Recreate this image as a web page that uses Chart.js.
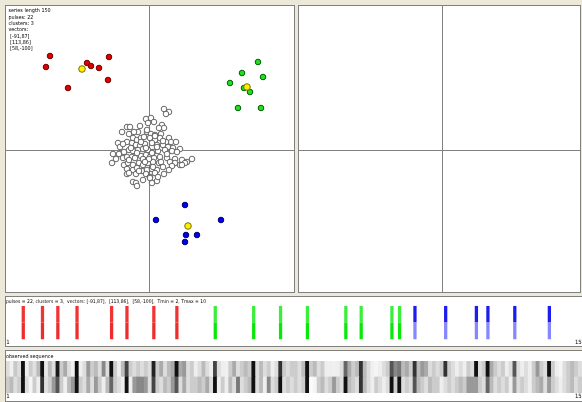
<!DOCTYPE html>
<html><head><meta charset="utf-8">
<script src="https://cdn.jsdelivr.net/npm/chart.js@4.4.1/dist/chart.umd.min.js"></script>
<style>
html,body{margin:0;padding:0;background:#ece9d8;width:582px;height:402px;overflow:hidden;}
.panel{position:absolute;background:#fff;border:1px solid #808080;box-sizing:border-box;overflow:hidden;}
canvas{position:absolute;left:0;top:0;}
</style></head><body>
<div class="panel" style="left:5px;top:5px;width:290px;height:288px"><canvas id="cLeft" width="288" height="286"></canvas></div>
<div class="panel" style="left:298px;top:5px;width:283px;height:288px"><canvas id="cRight" width="281" height="286"></canvas></div>
<div class="panel" style="left:5px;top:296px;width:580px;height:51px"><canvas id="cPulse" width="576" height="49"></canvas></div>
<div class="panel" style="left:5px;top:350px;width:580px;height:52px"><canvas id="cSeq" width="576" height="50"></canvas></div>
<script>
// ---------- data ----------
const infoLines = ['series length 150', 'pulses: 22', 'clusters: 3', 'vectors:', ' [-91,87]', ' [113,86]', ' [58,-100]'];
const pulseCaption = 'pulses = 22, clusters = 3,  vectors: [-91,87],  [113,86],  [58,-100],  Tmin = 2, Tmax = 10';
const seqCaption = 'observed sequence';

const redPoints = [[-99,94],[-103,83],[-62,87],[-58,84],[-50,82],[-40,93],[-41,70],[-81,62]];
const greenPoints = [[109,88],[93,77],[114,73],[81,67],[95,62],[101,58],[89,42],[112,42]];
const bluePoints = [[36,-55],[7,-70],[72,-70],[37,-85],[48,-85],[36,-92]];
const centroids = [[-67,81],[98,63],[39,-76]];

const cloudPoints = [
 [15,41],[20,38],[17,36],[-3,31],[2,32],[5,28],[13,25],[15,22],[-22,23],[-19,23],[-27,18],[-9,24],[-11,18],
 [-2,18],[2,16],[6,15],[12,16],[20,12],[22,8],[17,8],[-20,16],[-16,12],[-12,10],[-8,12],[-5,13],[1,12],[6,10],
 [11,12],[-31,7],[-29,3],[-22,8],[-17,7],[-13,5],[-9,4],[-4,6],[3,7],[8,5],[14,5],[19,3],[24,2],[31,1],
 [-36,-4],[-30,-4],[-25,-2],[-20,0],[-16,-1],[-11,0],[-6,1],[-1,0],[4,-2],[9,-1],[16,0],[23,-1],[28,-2],
 [-37,-13],[-26,-8],[-22,-7],[-17,-7],[-14,-8],[-8,-6],[-3,-5],[1,-7],[5,-8],[11,-7],[18,-8],[26,-9],[33,-10],
 [38,-12],[43,-9],[-25,-15],[-21,-13],[-16,-15],[-10,-13],[-6,-15],[-1,-13],[4,-12],[10,-13],[21,-12],[26,-13],
 [31,-15],[36,-13],[-22,-19],[-16,-20],[-12,-18],[-7,-21],[-2,-20],[3,-19],[8,-20],[14,-17],[23,-16],[33,-15],
 [-22,-24],[-20,-23],[-13,-24],[-3,-24],[1,-27],[6,-23],[15,-24],[-16,-32],[-13,-33],[-12,-36],[-6,-30],[1,-28],
 [3,-33],[8,-31],
 [-8,8],[-3,2],[3,-3],[-12,-3],[8,3],[-6,-9],[12,-12],[-18,2],[0,-9],[6,14],[-2,20],[-15,18],[18,-4],[-26,6],
 [10,22],[-4,-12],[14,9],[-10,-21],[4,-17],[20,-20],[-20,-10],[27,8],[-33,-9],[-1,27],[9,-27]
];

const redPulses = [5,10,14,19,28,32,39,45];
const greenPulses = [55,65,72,79,89,93,101,103];
const bluePulses = [107,115,123,126,133,142];

// observed sequence: grey level per step (0 = black, 255 = white), upper and lower row
const seqTop = [
 220,240,200,220,17,238,204,224,187,17,232,187,221,26,204,170,221,240,10,238,221,153,204,187,221,136,221,17,204,238,
 187,68,204,221,204,221,204,221,34,204,170,221,187,170,17,170,153,221,204,238,221,187,221,238,68,221,238,240,204,170,
 221,204,187,204,17,221,187,221,204,238,221,51,204,221,204,204,221,187,17,204,187,221,204,238,238,240,238,221,102,170,
 204,187,51,187,221,240,245,238,221,204,85,136,119,187,170,204,51,187,153,170,221,204,221,204,51,204,221,238,221,238,
 204,221,17,221,204,17,170,204,221,204,238,221,85,221,238,221,238,204,153,204,221,17,204,238,245,221,204,187,204,221
];
const seqBottom = [
 204,187,221,204,17,221,245,204,238,51,224,204,153,85,204,238,187,153,17,204,221,170,221,153,204,238,187,102,204,221,
 238,17,238,153,136,136,153,221,68,204,221,187,204,153,85,221,170,221,204,204,187,204,170,221,17,238,204,238,187,221,
 119,221,204,187,17,221,187,238,136,221,204,17,221,204,221,204,221,204,17,250,245,204,187,221,204,153,204,221,17,187,
 204,221,51,187,221,238,204,221,238,221,17,204,17,221,204,221,85,187,204,221,187,204,204,238,221,204,221,204,187,204,
 153,153,153,204,221,102,187,221,204,221,204,238,153,221,204,221,238,204,187,170,221,153,204,221,238,221,204,187,221,204
];

const steps = Array.from({length: 150}, (_, i) => String(i + 1));

// ---------- helpers ----------
const FONT = "'Liberation Sans Narrow','DejaVu Sans Condensed','Arial Narrow','Liberation Sans',sans-serif";
const toXY = arr => arr.map(p => ({x: p[0], y: p[1]}));
const grey = g => `rgb(${g},${g},${g})`;

function crossAxis(min, max) {
  return {
    type: 'linear', min, max, display: true,
    ticks: {display: false},
    border: {display: false},
    grid: {drawTicks: false, color: '#808080', lineWidth: 1},
    afterBuildTicks: s => { s.ticks = [{value: 0}]; }
  };
}
const commonOpts = {
  responsive: false, animation: false, events: [],
  layout: {padding: 0, autoPadding: false},
  plugins: {legend: {display: false}, tooltip: {enabled: false}}
};

const infoPlugin = {
  id: 'info',
  afterDraw(chart) {
    const ctx = chart.ctx;
    ctx.save();
    ctx.font = `5.4px ${FONT}`;
    ctx.fillStyle = '#000';
    ctx.textBaseline = 'middle';
    infoLines.forEach((t, i) => ctx.fillText(t, 2.5, 5 + i * 6.3));
    ctx.restore();
  }
};

// ---------- left scatter ----------
new Chart(document.getElementById('cLeft'), {
  type: 'scatter',
  data: {datasets: [
    {data: toXY(centroids), backgroundColor: '#ffee00', borderColor: '#7a7000', borderWidth: 1, pointRadius: 3.3},
    {data: toXY(redPoints), backgroundColor: '#e00000', borderColor: '#700000', borderWidth: 1, pointRadius: 2.8},
    {data: toXY(greenPoints), backgroundColor: '#22dd22', borderColor: '#006000', borderWidth: 1, pointRadius: 2.8},
    {data: toXY(bluePoints), backgroundColor: '#0000ee', borderColor: '#000070', borderWidth: 1, pointRadius: 2.8},
    {data: toXY(cloudPoints), backgroundColor: '#ffffff', borderColor: '#555555', borderWidth: 0.9, pointRadius: 2.8}
  ]},
  options: {...commonOpts, scales: {x: crossAxis(-143, 145), y: crossAxis(-142, 144)}},
  plugins: [infoPlugin]
});

// ---------- right (empty) panel ----------
new Chart(document.getElementById('cRight'), {
  type: 'scatter',
  data: {datasets: [{data: []}]},
  options: {...commonOpts, scales: {x: crossAxis(-143, 138), y: crossAxis(-142, 144)}}
});

// ---------- strips ----------
function stripX(h) {
  return {
    type: 'category', offset: true, stacked: true,
    grid: {display: false, drawTicks: false}, border: {display: false},
    ticks: {autoSkip: false, maxRotation: 0, minRotation: 0, padding: 0, color: '#000',
      font: {size: 6, family: FONT, lineHeight: 1},
      callback: (v, i) => (i === 0 || i === steps.length - 1) ? steps[i] : ''},
    afterFit: s => { s.paddingLeft = 0; s.paddingRight = 0; s.height = h; }
  };
}
function stripTitle(text, size, top, bottom) {
  return {display: true, text, align: 'start', color: '#000',
    font: {size, family: FONT, weight: 'normal', lineHeight: 6.5 / size}, padding: {top, bottom}};
}

const clusterOf = {};
redPulses.forEach(p => clusterOf[p] = 0);
greenPulses.forEach(p => clusterOf[p] = 1);
bluePulses.forEach(p => clusterOf[p] = 2);
const upperCols = ['#f03434', '#3cee3c', '#1c1cee'];
const lowerCols = ['#ee2c2c', '#0ae80a', '#8686ff'];
const pulseVals = steps.map((_, i) => clusterOf[i + 1] !== undefined ? 1 : null);
const pulseUpperC = steps.map((_, i) => clusterOf[i + 1] !== undefined ? upperCols[clusterOf[i + 1]] : 'transparent');
const pulseLowerC = steps.map((_, i) => clusterOf[i + 1] !== undefined ? lowerCols[clusterOf[i + 1]] : 'transparent');

new Chart(document.getElementById('cPulse'), {
  type: 'bar',
  data: {labels: steps, datasets: [
    {data: pulseVals, backgroundColor: pulseLowerC, barPercentage: 0.85, categoryPercentage: 1, borderWidth: 0},
    {data: pulseVals, backgroundColor: pulseUpperC, barPercentage: 0.85, categoryPercentage: 1, borderWidth: 0}
  ]},
  options: {...commonOpts,
    plugins: {...commonOpts.plugins, title: stripTitle(pulseCaption, 5, 1.4, 0.8)},
    scales: {x: stripX(6.5), y: {display: false, stacked: true, min: 0, max: 2}}}
});

new Chart(document.getElementById('cSeq'), {
  type: 'bar',
  data: {labels: steps, datasets: [
    {data: seqBottom.map(() => 1), backgroundColor: seqBottom.map(grey), barPercentage: 1, categoryPercentage: 1, borderWidth: 0},
    {data: seqTop.map(() => 1), backgroundColor: seqTop.map(grey), barPercentage: 1, categoryPercentage: 1, borderWidth: 0}
  ]},
  options: {...commonOpts,
    plugins: {...commonOpts.plugins, title: stripTitle(seqCaption, 5.4, 1.9, 1.6)},
    scales: {x: stripX(8), y: {display: false, stacked: true, min: 0, max: 2}}}
});
</script>
</body></html>
